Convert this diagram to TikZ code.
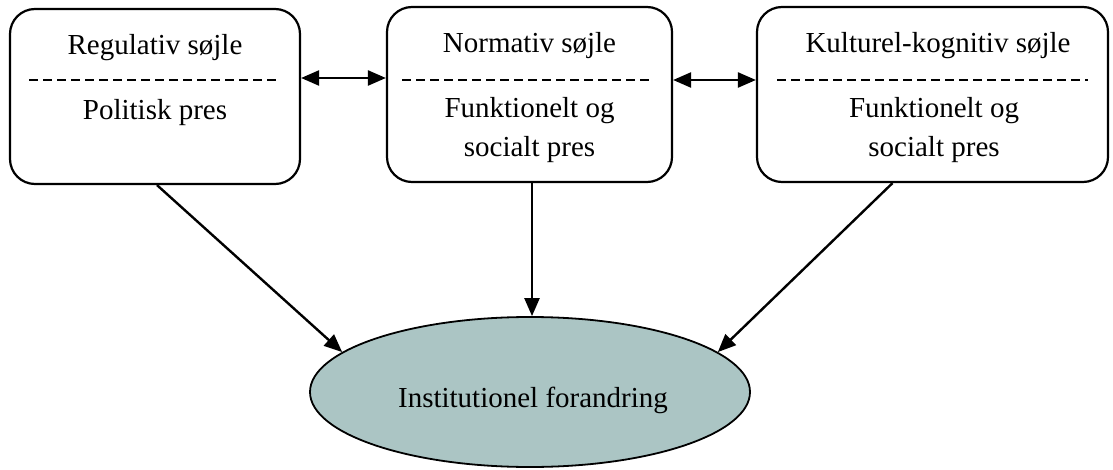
\documentclass[tikz,border=0pt]{standalone}
\usepackage{fontspec}
\setmainfont{Liberation Serif}
\usetikzlibrary{arrows.meta,shapes.geometric}
\definecolor{ellfill}{RGB}{171,197,196}
\begin{document}
\begin{tikzpicture}[x=1pt,y=-1pt,
  pillar/.style={draw,line width=2.2pt,rounded corners=25pt,minimum height=175pt,inner sep=0pt},
  lbl/.style={anchor=base,inner sep=0pt,font=\fontsize{29}{35}\selectfont},
  sep/.style={line width=1.8pt,dash pattern=on 8.5pt off 5.5pt},
  arr/.style={line width=2.4pt,-{Triangle[length=18pt,width=15pt]}},
  dbl/.style={line width=2.4pt,{Triangle[length=18pt,width=15pt]}-{Triangle[length=18pt,width=15pt]}}]
\useasboundingbox (0,0) rectangle (1113,470);

% the three pillars
\node[pillar,minimum width=290pt] (b1) at (155,96.5) {};
\node[pillar,minimum width=285pt] (b2) at (529.5,94.5) {};
\node[pillar,minimum width=351pt] (b3) at (932.5,94.5) {};

% outcome
\node[draw,line width=1.8pt,fill=ellfill,ellipse,minimum width=440pt,minimum height=150pt,inner sep=0pt] (e) at (530,392) {};

% texts
\node[lbl] (t1a) at (155,55) {Regulativ søjle};
\node[lbl] (t1b) at (155,120) {Politisk pres};
\node[lbl] (t2a) at (529.5,53) {Normativ søjle};
\node[lbl] (t2b) at (529.5,118) {Funktionelt og};
\node[lbl] (t2c) at (529.5,157) {socialt pres};
\node[lbl] (t3a) at (938,53) {Kulturel-kognitiv søjle};
\node[lbl] (t3b) at (934,118) {Funktionelt og};
\node[lbl] (t3c) at (934,157) {socialt pres};
\node[lbl] (te) at (533,407) {Institutionel forandring};

% dashed separators
\draw[sep] (29,80) -- (276,80);
\draw[sep] (402,80) -- (650,80);
\draw[sep] (777,80) -- (1088,80);

% connectors
\draw[dbl] ([yshift=18.5pt]b1.east) -- ([yshift=16.5pt]b2.west);
\draw[dbl] ([yshift=14.5pt]b2.east) -- ([yshift=14.5pt]b3.west);
\draw[arr] ([xshift=2pt]b1.south) -- (e.168);
\draw[arr] ([xshift=2.5pt]b2.south) -- ([xshift=2pt]e.north);
\draw[arr] ([xshift=-40pt]b3.south) -- (e.12);
\end{tikzpicture}
\end{document}
